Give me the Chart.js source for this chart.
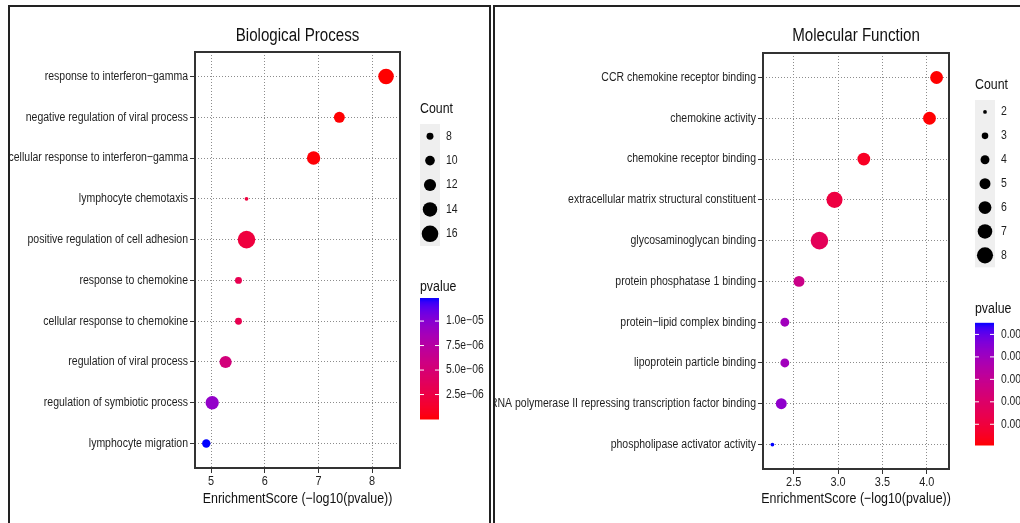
<!DOCTYPE html>
<html>
<head>
<meta charset="utf-8">
<script src="https://cdn.jsdelivr.net/npm/chart.js@4.4.0/dist/chart.umd.min.js"></script>
<style>
html, body { margin: 0; padding: 0; background: #fff; overflow: hidden; width: 1020px; height: 523px; }
.panel { position: absolute; top: 5px; height: 540px; border: 2px solid #222; box-sizing: border-box; overflow: hidden; }
#p1 { left: 8px; width: 483px; }
#p2 { left: 493px; width: 560px; }
.panel canvas { position: absolute; top: -7px; }
#bpChart { left: -10px; }
#mfChart { left: -495px; }
</style>
</head>
<body>
<div class="panel" id="p1"><canvas id="bpChart" width="1020" height="523"></canvas></div>
<div class="panel" id="p2"><canvas id="mfChart" width="1020" height="523"></canvas></div>
<script>
// Biological Process
var bpTerms = ['response to interferon\u2212gamma', 'negative regulation of viral process', 'cellular response to interferon\u2212gamma',
    'lymphocyte chemotaxis', 'positive regulation of cell adhesion', 'response to chemokine', 'cellular response to chemokine',
    'regulation of viral process', 'regulation of symbiotic process', 'lymphocyte migration'];
var bpScore = [8.26, 7.39, 6.91, 5.66, 5.66, 5.51, 5.51, 5.27, 5.02, 4.91];
var bpCount = [15, 11, 13, 6, 17, 8, 8, 12, 13, 9];
var bpXTicks = [5, 6, 7, 8];
var bpXLabels = ['5', '6', '7', '8'];
var bpCountBreaks = [8, 10, 12, 14, 16];
var bpPTicks = [2.5e-6, 5e-6, 7.5e-6, 1e-5];
var bpPLabels = ['2.5e\u221206', '5.0e\u221206', '7.5e\u221206', '1.0e\u221205'];

// Molecular Function
var mfTerms = ['CCR chemokine receptor binding', 'chemokine activity', 'chemokine receptor binding',
    'extracellular matrix structural constituent', 'glycosaminoglycan binding', 'protein phosphatase 1 binding',
    'protein\u2212lipid complex binding', 'lipoprotein particle binding',
    'RNA polymerase II repressing transcription factor binding', 'phospholipase activator activity'];
var mfScore = [4.11, 4.03, 3.29, 2.96, 2.79, 2.56, 2.40, 2.40, 2.36, 2.26];
var mfCount = [6, 6, 6, 8, 9, 5, 4, 4, 5, 2];
var mfXTicks = [2.5, 3.0, 3.5, 4.0];
var mfXLabels = ['2.5', '3.0', '3.5', '4.0'];
var mfCountBreaks = [2, 3, 4, 5, 6, 7, 8];
var mfPTicks = [0.001, 0.002, 0.003, 0.004, 0.005];
var mfPLabels = ['0.001', '0.002', '0.003', '0.004', '0.005'];

var FAM = "'Liberation Sans', Arial, sans-serif";
var SX = 0.84; // the original figure is squeezed sideways
Chart.defaults.font.family = FAM;

function txt(ctx, s, x, y, size, align, color) {
    ctx.save();
    ctx.font = size + 'px ' + FAM;
    ctx.textAlign = align;
    ctx.textBaseline = 'middle';
    ctx.fillStyle = color || '#1e1e1e';
    ctx.translate(x, y);
    ctx.scale(SX, 1);
    ctx.fillText(s, 0, 0);
    ctx.restore();
}

// red -> blue gradient in Lab space (like ggplot scale_colour_gradient)
function lin(c) { c /= 255; return c <= 0.04045 ? c / 12.92 : Math.pow((c + 0.055) / 1.055, 2.4); }
function unlin(c) { c = c <= 0.0031308 ? 12.92 * c : 1.055 * Math.pow(c, 1 / 2.4) - 0.055; return Math.round(Math.max(0, Math.min(1, c)) * 255); }
function toLab(rgb) {
    var r = lin(rgb[0]), g = lin(rgb[1]), b = lin(rgb[2]);
    var x = (0.4124 * r + 0.3576 * g + 0.1805 * b) / 0.95047;
    var y = 0.2126 * r + 0.7152 * g + 0.0722 * b;
    var z = (0.0193 * r + 0.1192 * g + 0.9505 * b) / 1.08883;
    var f = function (t) { return t > 0.008856 ? Math.cbrt(t) : 7.787 * t + 16 / 116; };
    var fx = f(x), fy = f(y), fz = f(z);
    return [116 * fy - 16, 500 * (fx - fy), 200 * (fy - fz)];
}
function fromLab(lab) {
    var fy = (lab[0] + 16) / 116, fx = fy + lab[1] / 500, fz = fy - lab[2] / 200;
    var g = function (t) { return t * t * t > 0.008856 ? t * t * t : (t - 16 / 116) / 7.787; };
    var x = g(fx) * 0.95047, y = g(fy), z = g(fz) * 1.08883;
    var r = 3.2406 * x - 1.5372 * y - 0.4986 * z;
    var gg = -0.9689 * x + 1.8758 * y + 0.0415 * z;
    var b = 0.0557 * x - 0.2040 * y + 1.0570 * z;
    return 'rgb(' + unlin(r) + ',' + unlin(gg) + ',' + unlin(b) + ')';
}
var lowLab = toLab([255, 0, 0]), highLab = toLab([0, 0, 255]);
function gradColor(t) {
    return fromLab([0, 1, 2].map(function (k) { return lowLab[k] + (highLab[k] - lowLab[k]) * t; }));
}

function makeChart(canvasId, cfg) {
    var pvals = cfg.score.map(function (s) { return Math.pow(10, -s); });
    var pMin = Math.min.apply(null, pvals), pMax = Math.max.apply(null, pvals);
    var lo = Math.sqrt(Math.min.apply(null, cfg.count)), hi = Math.sqrt(Math.max.apply(null, cfg.count));
    var radius = function (n) { return 1.9 + 6.9 * (Math.sqrt(n) - lo) / (hi - lo); };

    var points = cfg.score.map(function (s, i) { return { x: s, y: i, r: radius(cfg.count[i]) }; });
    var colors = pvals.map(function (p) { return gradColor((p - pMin) / (pMax - pMin)); });

    var decor = {
        id: 'decor',
        afterDraw: function (chart) {
            var ctx = chart.ctx, a = chart.chartArea, L = cfg.legend;
            var xs = chart.scales.x, ys = chart.scales.y;
            ctx.save();
            ctx.strokeStyle = '#333';
            ctx.lineWidth = 2;
            ctx.strokeRect(a.left, a.top, a.right - a.left, a.bottom - a.top);
            ctx.restore();

            // axis labels from the scales
            cfg.terms.forEach(function (t, i) {
                txt(ctx, t, a.left - 7, ys.getPixelForValue(i), 12.5, 'right');
            });
            cfg.xTicks.forEach(function (v, i) {
                txt(ctx, cfg.xLabels[i], xs.getPixelForValue(v), a.bottom + 13, 13, 'center');
            });

            txt(ctx, cfg.title, (a.left + a.right) / 2, 36, 18, 'center', '#111');
            txt(ctx, 'EnrichmentScore (\u2212log10(pvalue))', (a.left + a.right) / 2, 499, 14.8, 'center', '#111');

            // Count legend
            txt(ctx, 'Count', L.x, L.countTitleY, 14.7, 'left', '#111');
            ctx.save();
            ctx.fillStyle = '#efefef';
            ctx.fillRect(L.x, L.keyTop, 20, L.keyH * cfg.countBreaks.length);
            cfg.countBreaks.forEach(function (n, i) {
                var cy = L.keyTop + L.keyH * (i + 0.5);
                ctx.fillStyle = '#000';
                ctx.beginPath();
                ctx.arc(L.x + 10, cy, radius(n), 0, Math.PI * 2);
                ctx.fill();
                txt(ctx, String(n), L.x + 26, cy, 12.5, 'left');
            });
            ctx.restore();

            // pvalue colour bar
            txt(ctx, 'pvalue', L.x, L.pTitleY, 14.7, 'left', '#111');
            ctx.save();
            var bh = L.barBottom - L.barTop, nbin = 120;
            for (var k = 0; k < nbin; k++) {
                ctx.fillStyle = gradColor((k + 0.5) / nbin);
                ctx.fillRect(L.x, L.barBottom - bh * (k + 1) / nbin - 0.5, 19, bh / nbin + 1);
            }
            ctx.strokeStyle = '#fff';
            ctx.lineWidth = 1;
            cfg.pTicks.forEach(function (p, i) {
                var y = L.barBottom - (p - pMin) / (pMax - pMin) * bh;
                ctx.beginPath();
                ctx.moveTo(L.x, y); ctx.lineTo(L.x + 4, y);
                ctx.moveTo(L.x + 15, y); ctx.lineTo(L.x + 19, y);
                ctx.stroke();
                txt(ctx, cfg.pLabels[i], L.x + 26, y, 12.3, 'left');
            });
            ctx.restore();
        }
    };

    var gridOpts = { color: '#8c8c8c', lineWidth: 1, borderDash: [1, 2], tickLength: 5, tickColor: '#333', tickWidth: 1, tickBorderDash: [] };
    var borderOpts = { display: false, dash: [1, 2] };

    return new Chart(document.getElementById(canvasId).getContext('2d'), {
        type: 'bubble',
        data: {
            datasets: [{
                data: points,
                backgroundColor: colors,
                borderWidth: 0
            }]
        },
        options: {
            responsive: false,
            animation: false,
            layout: { padding: { left: 0, right: 1020 - cfg.area.right, top: cfg.area.top, bottom: 523 - cfg.area.bottom - 20 } },
            plugins: { legend: { display: false }, tooltip: { enabled: false } },
            scales: {
                x: {
                    type: 'linear', min: cfg.xMin, max: cfg.xMax,
                    afterBuildTicks: function (s) { s.ticks = cfg.xTicks.map(function (v) { return { value: v }; }); },
                    afterFit: function (s) { s.height = 20; },
                    ticks: { display: false },
                    grid: gridOpts, border: borderOpts
                },
                y: {
                    type: 'linear', reverse: true, min: -0.6, max: cfg.terms.length - 0.4,
                    afterBuildTicks: function (s) { s.ticks = cfg.terms.map(function (t, i) { return { value: i }; }); },
                    afterFit: function (s) { s.width = cfg.area.left; },
                    ticks: { display: false },
                    grid: gridOpts, border: borderOpts
                }
            }
        },
        plugins: [decor]
    });
}

var bpChart = makeChart('bpChart', {
    title: 'Biological Process',
    terms: bpTerms, score: bpScore, count: bpCount,
    xMin: 4.70, xMax: 8.52, xTicks: bpXTicks, xLabels: bpXLabels,
    countBreaks: bpCountBreaks, pTicks: bpPTicks, pLabels: bpPLabels,
    area: { left: 195, right: 400, top: 52, bottom: 468 },
    legend: { x: 420, countTitleY: 109, keyTop: 124, keyH: 24.4, pTitleY: 287, barTop: 298.5, barBottom: 419 }
});

var mfChart = makeChart('mfChart', {
    title: 'Molecular Function',
    terms: mfTerms, score: mfScore, count: mfCount,
    xMin: 2.154, xMax: 4.25, xTicks: mfXTicks, xLabels: mfXLabels,
    countBreaks: mfCountBreaks, pTicks: mfPTicks, pLabels: mfPLabels,
    area: { left: 763, right: 949, top: 53, bottom: 469 },
    legend: { x: 975, countTitleY: 85, keyTop: 100, keyH: 23.9, pTitleY: 309, barTop: 323.3, barBottom: 445 }
});
</script>
</body>
</html>
